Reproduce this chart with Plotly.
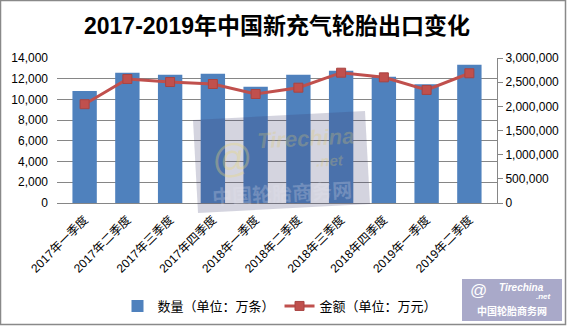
import plotly.graph_objects as go

# Quarterly export figures for new pneumatic tyres
categories = ["2017年一季度", "2017年二季度", "2017年三季度", "2017年四季度",
              "2018年一季度", "2018年二季度", "2018年三季度", "2018年四季度",
              "2019年一季度", "2019年二季度"]
quantity = [10820, 12580, 12390, 12480, 11230, 12390, 12770, 12195, 11460, 13350]   # 万条
amount = [2044000, 2566000, 2503000, 2462000, 2255000, 2386000, 2696000, 2600000, 2339000, 2684000]  # 万元

W, H = 567, 326
L, R, T, B = 57, 70, 58, 123
PW, PH = W - L - R, H - T - B

FONT = "Liberation Sans, Noto Sans CJK SC, sans-serif"
CJK = "Noto Sans CJK SC, sans-serif"
BLUE = "#4F81BD"
RED = "#C0504D"
GRID = "#868686"


def px(x):
    return (x - L) / PW


def py(y):
    return (H - B - y) / PH


fig = go.Figure()
fig.add_trace(go.Bar(
    x=categories, y=quantity, name="数量（单位：万条）",
    marker=dict(color=BLUE, line=dict(width=0)), yaxis="y",
))
fig.add_trace(go.Scatter(
    x=categories, y=amount, name="金额（单位：万元）", yaxis="y2",
    mode="lines+markers",
    line=dict(color=RED, width=3),
    marker=dict(symbol="square", size=9, color=RED, line=dict(color="#A94442", width=1)),
))

shapes = []
# semi-transparent watermark panel in the plot
wm = [(193, 120), (365, 111), (370, 204), (198, 213)]
path = "M " + " L ".join(f"{px(x)},{py(y)}" for x, y in wm) + " Z"
shapes.append(dict(type="path", path=path, xref="paper", yref="paper",
                   fillcolor="rgba(60,60,110,0.22)", line=dict(width=0), layer="above"))
# logo box at lower right
shapes.append(dict(type="rect", xref="paper", yref="paper",
                   x0=px(462), x1=px(562), y0=py(321), y1=py(279),
                   fillcolor="#A9A9C9", line=dict(width=0), layer="above"))
# outer frame
shapes.append(dict(type="rect", xref="paper", yref="paper",
                   x0=px(0.5), x1=px(565.5), y0=py(324.5), y1=py(0.5),
                   fillcolor="rgba(0,0,0,0)", line=dict(color="#898989", width=1.5)))


def note(text, x, y, size, color, angle=0, family=FONT):
    return dict(text=text, x=px(x), y=py(y), xref="paper", yref="paper",
                xanchor="center", yanchor="middle", showarrow=False, textangle=angle,
                font=dict(family=family, size=size, color=color))


annotations = [
    note("@", 232, 158, 40, "rgba(235,215,120,0.35)", -3),
    note("<i><b>Tirechina</b></i>", 305, 138, 22, "rgba(220,200,110,0.28)", -3),
    note("<i><b>.net</b></i>", 330, 160, 15, "rgba(220,200,110,0.28)", -3),
    note("<b>中国轮胎商务网</b>", 282, 192, 20, "rgba(230,230,240,0.25)", -3, CJK),
    note("@", 478, 290, 17, "white"),
    note("<i><b>Tirechina</b></i>", 521, 287, 10, "white"),
    note("<i><b>.net</b></i>", 543, 296, 8, "white"),
    note("<b>中国轮胎商务网</b>", 512, 310, 10, "white", 0, CJK),
]

fig.update_layout(
    width=W, height=H,
    margin=dict(l=L, r=R, t=T, b=B, pad=0, autoexpand=False),
    paper_bgcolor="white", plot_bgcolor="white",
    font=dict(family=FONT, size=12, color="black"),
    title=dict(text="<b>2017-2019年中国新充气轮胎出口变化</b>",
               x=0.5, xanchor="center", xref="paper",
               y=1 - 26 / H, yanchor="middle", yref="container",
               font=dict(family=FONT, size=23, color="black")),
    bargap=0.43,
    showlegend=True,
    legend=dict(orientation="h", x=px(280), xanchor="center", y=py(306), yanchor="middle",
                font=dict(family=CJK, size=13, color="black"),
                bgcolor="rgba(0,0,0,0)", itemwidth=30, tracegroupgap=0),
    xaxis=dict(tickangle=-45, showgrid=False, showline=True, linecolor=GRID, linewidth=1,
               ticks="", automargin=False, ticklabelstandoff=4,
               tickfont=dict(family=FONT, size=12, color="black")),
    yaxis=dict(range=[0, 14000], dtick=2000, tickformat=",", showgrid=True,
               gridcolor=GRID, gridwidth=1, zeroline=False, showline=False, ticks="",
               ticklabelstandoff=8, automargin=False,
               tickfont=dict(family=FONT, size=12, color="black")),
    yaxis2=dict(range=[0, 3000000], dtick=500000, tickformat=",", overlaying="y",
                side="right", showgrid=False, zeroline=False, showline=True,
                linecolor=GRID, linewidth=1, ticks="outside", ticklen=5, tickcolor=GRID,
                automargin=False,
                tickfont=dict(family=FONT, size=12, color="black")),
    shapes=shapes,
    annotations=annotations,
)

fig.write_html("out.html")
